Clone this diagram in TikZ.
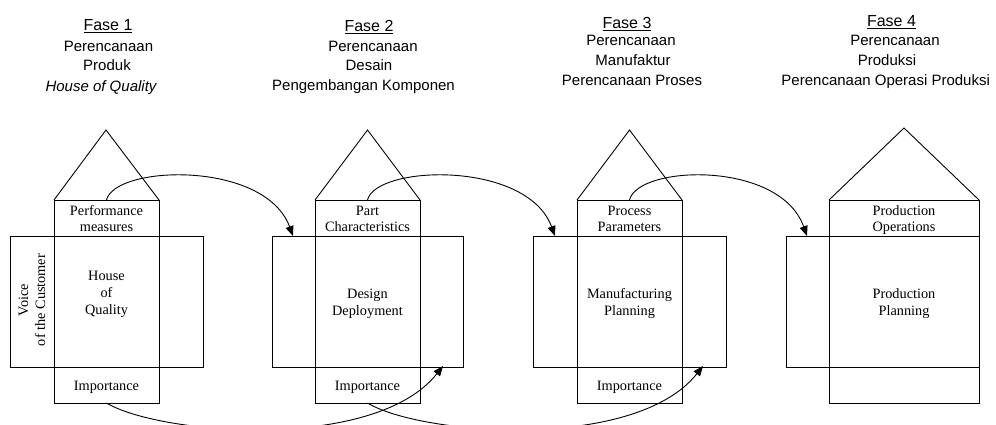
\documentclass[tikz,border=0pt]{standalone}
\usepackage{fontspec}
\setmainfont{Liberation Serif}
\newfontfamily\arialfont{Liberation Sans}
\usetikzlibrary{arrows.meta}

\begin{document}
\begin{tikzpicture}[x=1pt,y=-1pt,
  frame/.style={draw=black, line width=0.9pt, inner sep=0pt, outer sep=0pt},
  roof/.style={draw=black, line width=0.9pt, line join=miter},
  flow/.style={draw=black, line width=0.9pt, -{Triangle[length=10pt,width=8pt]}},
  fase/.style={font=\arialfont\fontsize{16}{19}\selectfont, anchor=base, inner sep=0pt},
  ttl/.style={font=\arialfont\fontsize{15}{18}\selectfont, anchor=base, inner sep=0pt},
  lbl/.style={font=\fontsize{14.3}{17}\selectfont, anchor=base, inner sep=0pt}
]
\useasboundingbox (0,0) rectangle (996,425);
\fill[white] (0,0) rectangle (996,425);

% ---------- Phase 1 : House of Quality ----------
\node[frame, minimum width=193pt, minimum height=131pt] (w1) at (106.5,301.5) {};
\node[frame, minimum width=105pt, minimum height=203pt] (t1) at (106.5,301.5) {};
\coordinate (r1) at (106,130);
\draw[roof] (t1.north west) -- (r1) -- (t1.north east);

\node[fase] (f1a) at (108,30.7) {\underline{Fase 1}};
\node[ttl] (f1b) at (108.5,51.7) {Perencanaan};
\node[ttl] (f1c) at (107,71) {Produk};
\node[ttl] (f1d) at (101,91.7) {\itshape House of Quality};

\node[lbl] (p1a) at (106.5,215) {Performance};
\node[lbl] (p1b) at (106.5,231.7) {measures};
\node[lbl] (p1c) at (106.5,280) {House};
\node[lbl] (p1d) at (106.5,297.7) {of};
\node[lbl] (p1e) at (106.5,314.3) {Quality};
\node[lbl] (p1f) at (106.5,390.7) {Importance};
\node[font=\fontsize{14.3}{17}\selectfont, rotate=90, align=center, inner sep=0pt]
  (voc) at (32,300) {Voice\\of the Customer};

% ---------- Phase 2 : Design Deployment ----------
\node[frame, minimum width=191pt, minimum height=131pt] (w2) at (367.5,301.5) {};
\node[frame, minimum width=105pt, minimum height=203pt] (t2) at (367.5,301.5) {};
\coordinate (r2) at (367.5,130);
\draw[roof] (t2.north west) -- (r2) -- (t2.north east);

\node[fase] (f2a) at (369,32) {\underline{Fase 2}};
\node[ttl] (f2b) at (373,51.7) {Perencanaan};
\node[ttl] (f2c) at (369,71) {Desain};
\node[ttl] (f2d) at (363.5,90.7) {Pengembangan Komponen};

\node[lbl] (p2a) at (367.5,215) {Part};
\node[lbl] (p2b) at (367.5,231.7) {Characteristics};
\node[lbl] (p2c) at (367.5,298) {Design};
\node[lbl] (p2d) at (367.5,315) {Deployment};
\node[lbl] (p2e) at (367.5,390.7) {Importance};

% ---------- Phase 3 : Manufacturing Planning ----------
\node[frame, minimum width=193pt, minimum height=131pt] (w3) at (629.5,301.5) {};
\node[frame, minimum width=105pt, minimum height=203pt] (t3) at (629.5,301.5) {};
\coordinate (r3) at (629.5,130);
\draw[roof] (t3.north west) -- (r3) -- (t3.north east);

\node[fase] (f3a) at (627,28.3) {\underline{Fase 3}};
\node[ttl] (f3b) at (631,45.7) {Perencanaan};
\node[ttl] (f3c) at (633,65.7) {Manufaktur};
\node[ttl] (f3d) at (632,86) {Perencanaan Proses};

\node[lbl] (p3a) at (629.5,215) {Process};
\node[lbl] (p3b) at (629.5,231.7) {Parameters};
\node[lbl] (p3c) at (629.5,298) {Manufacturing};
\node[lbl] (p3d) at (629.5,315) {Planning};
\node[lbl] (p3e) at (629.5,390.7) {Importance};

% ---------- Phase 4 : Production Planning ----------
\node[frame, minimum width=193pt, minimum height=131pt] (w4) at (882.5,301.5) {};
\node[frame, minimum width=150pt, minimum height=203pt] (t4) at (904,301.5) {};
\coordinate (r4) at (904,128);
\draw[roof] (t4.north west) -- (r4) -- (t4.north east);

\node[fase] (f4a) at (891.5,26.7) {\underline{Fase 4}};
\node[ttl] (f4b) at (895,45.7) {Perencanaan};
\node[ttl] (f4c) at (887,65.7) {Produksi};
\node[ttl] (f4d) at (885.7,86) {Perencanaan Operasi Produksi};

\node[lbl] (p4a) at (904,215) {Production};
\node[lbl] (p4b) at (904,231.7) {Operations};
\node[lbl] (p4c) at (904,298) {Production};
\node[lbl] (p4d) at (904,315) {Planning};

% ---------- links between the phases ----------
\coordinate (a1) at (293,236);
\coordinate (a2) at (555,236);
\coordinate (a3) at (807,236);
\coordinate (b1) at (443,366);
\coordinate (b2) at (703,366);

\draw[flow] (t1.north) .. controls (115,165) and (265,160) .. (a1);
\draw[flow] (t2.north) .. controls (376,165) and (527,160) .. (a2);
\draw[flow] (t3.north) .. controls (638,165) and (780,160) .. (a3);

\draw[flow] (t1.south) .. controls (160,435) and (375,452) .. (b1);
\draw[flow] (t2.south) .. controls (420,435) and (635,452) .. (b2);
\end{tikzpicture}
\end{document}
